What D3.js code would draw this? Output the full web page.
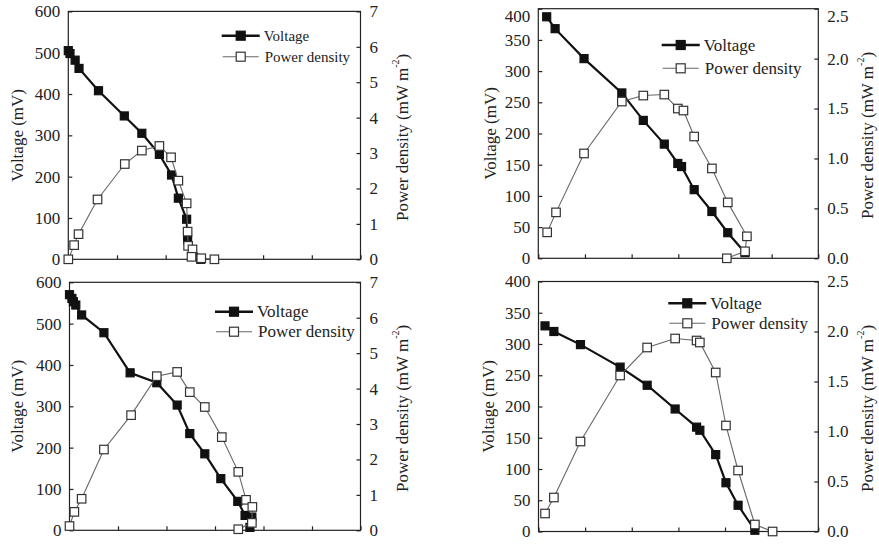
<!DOCTYPE html>
<html><head><meta charset="utf-8">
<script src="https://cdn.jsdelivr.net/npm/d3@7/dist/d3.min.js"></script>
<style>
body{margin:0;background:#fff}
svg{display:block}
text{font-family:"Liberation Serif","Times New Roman",serif;fill:#222}
</style>
</head><body>
<svg id="chart" width="879" height="545"></svg>
<script>
// ---------- data ----------
const xTickValues = [0, 1, 2, 3, 4, 5, 6];
const seriesNames = ["Voltage", "Power density"];
const leftTitle = "Voltage (mV)";

// Panel A (top-left)
const aVoltX = [0, 0.035, 0.14, 0.22, 0.62, 1.15, 1.51, 1.87, 2.12, 2.26, 2.43, 2.45, 2.72];
const aVolt  = [505, 498, 482, 462, 408, 347, 305, 254, 204, 148, 97, 47, 0];
const aPowX  = [0, 0.12, 0.21, 0.60, 1.16, 1.51, 1.87, 2.11, 2.26, 2.43, 2.45, 2.46, 2.55, 2.53, 2.73, 3.0];
const aPow   = [0, 0.40, 0.71, 1.69, 2.69, 3.07, 3.20, 2.88, 2.22, 1.58, 0.78, 0.38, 0.28, 0.07, 0.03, 0];
const aVoltTicks = [0, 100, 200, 300, 400, 500, 600];
const aPowTicks  = [0, 1, 2, 3, 4, 5, 6, 7];

// Panel B (top-right)
const bVoltX = [0.18, 0.36, 0.98, 1.79, 2.25, 2.70, 2.99, 3.07, 3.34, 3.72, 4.06, 4.43];
const bVolt  = [387, 368, 320, 265, 221, 183, 152, 147, 110, 75, 41, 9];
const bPowX  = [0.19, 0.38, 0.98, 1.79, 2.25, 2.70, 2.99, 3.11, 3.34, 3.72, 4.06, 4.47, 4.43, 4.04];
const bPow   = [0.26, 0.46, 1.05, 1.57, 1.63, 1.64, 1.50, 1.48, 1.22, 0.90, 0.56, 0.22, 0.07, 0.00];
const bVoltTicks = [0, 50, 100, 150, 200, 250, 300, 350, 400];
const bPowTicks  = [0, 0.5, 1.0, 1.5, 2.0, 2.5];

// Panel C (bottom-left)
const cVoltX = [0, 0.05, 0.08, 0.13, 0.25, 0.71, 1.25, 1.80, 2.22, 2.48, 2.79, 3.12, 3.47, 3.62, 3.76, 3.72];
const cVolt  = [570, 561, 553, 545, 521, 478, 381, 357, 303, 234, 185, 125, 70, 36, 32, 7];
const cPowX  = [0, 0.10, 0.25, 0.71, 1.27, 1.80, 2.22, 2.48, 2.79, 3.14, 3.48, 3.64, 3.77, 3.76, 3.48];
const cPow   = [0.12, 0.52, 0.89, 2.28, 3.25, 4.35, 4.47, 3.90, 3.48, 2.63, 1.65, 0.86, 0.66, 0.21, 0.03];
const cVoltTicks = [0, 100, 200, 300, 400, 500, 600];
const cPowTicks  = [0, 1, 2, 3, 4, 5, 6, 7];

// Panel D (bottom-right)
const dVoltX = [0.14, 0.33, 0.90, 1.75, 2.33, 2.93, 3.39, 3.46, 3.80, 4.02, 4.28, 4.64];
const dVolt  = [329, 320, 299, 263, 234, 196, 167, 162, 123, 78, 42, 2];
const dPowX  = [0.14, 0.33, 0.90, 1.75, 2.33, 2.93, 3.39, 3.46, 3.80, 4.02, 4.28, 4.64, 5.02];
const dPow   = [0.18, 0.34, 0.90, 1.56, 1.84, 1.93, 1.91, 1.89, 1.59, 1.06, 0.61, 0.07, 0.00];
const dVoltTicks = [0, 50, 100, 150, 200, 250, 300, 350, 400];
const dPowTicks  = [0, 0.5, 1.0, 1.5, 2.0, 2.5];

// ---------- layout ----------
const panels = [
  {vx: aVoltX, v: aVolt, px: aPowX, p: aPow, vt: aVoltTicks, pt: aPowTicks, pfmt: d3.format("d"),
   l: 68.3, r: 360.5, t: 11.4, b: 259.3, leg: {x: 221.7, y1: 35.7, y2: 56.7, fs: 15},
   tl: 17.3, tr: 401.7, labelMinY: 0},
  {vx: bVoltX, v: bVolt, px: bPowX, p: bPow, vt: bVoltTicks, pt: bPowTicks, pfmt: d3.format(".1f"),
   l: 538.3, r: 818.3, t: 8.7, b: 258.3, leg: {x: 661.7, y1: 45, y2: 68.3, fs: 17},
   tl: 490, tr: 866.7, labelMinY: 16.5},
  {vx: cVoltX, v: cVolt, px: cPowX, p: cPow, vt: cVoltTicks, pt: cPowTicks, pfmt: d3.format("d"),
   l: 69.5, r: 360.5, t: 282.3, b: 530.3, leg: {x: 215, y1: 311.7, y2: 331.7, fs: 17},
   tl: 17.3, tr: 401.7, labelMinY: 0},
  {vx: dVoltX, v: dVolt, px: dPowX, p: dPow, vt: dVoltTicks, pt: dPowTicks, pfmt: d3.format(".1f"),
   l: 538.5, r: 818.3, t: 281.5, b: 531.5, leg: {x: 668.3, y1: 303.3, y2: 323.3, fs: 17},
   tl: 488.3, tr: 866.7, labelMinY: 0}
];

const svg = d3.select("#chart");
const AX = "#222";
const FS = 17;

function square(g, cx, cy, s, filled) {
  g.append("rect").attr("x", cx - s / 2).attr("y", cy - s / 2).attr("width", s).attr("height", s)
    .attr("fill", filled ? "#111" : "#fff").attr("stroke", filled ? "#111" : "#333").attr("stroke-width", 1.2);
}

panels.forEach(P => {
  const g = svg.append("g");
  const x = d3.scaleLinear().domain([0, 6]).range([P.l, P.r]);
  const yV = d3.scaleLinear().domain([0, d3.max(P.vt)]).range([P.b, P.t]);
  const yP = d3.scaleLinear().domain([0, d3.max(P.pt)]).range([P.b, P.t]);

  // frame
  g.append("rect").attr("x", P.l).attr("y", P.t).attr("width", P.r - P.l).attr("height", P.b - P.t)
    .attr("fill", "none").attr("stroke", AX).attr("stroke-width", 1.2);

  // axes (ticks inward)
  const ax = g.append("g").attr("transform", `translate(0,${P.b})`)
    .call(d3.axisBottom(x).tickValues(xTickValues).tickSizeInner(-4).tickSizeOuter(0).tickFormat(""));
  const al = g.append("g").attr("transform", `translate(${P.l},0)`)
    .call(d3.axisLeft(yV).tickValues(P.vt).tickSizeInner(-4).tickSizeOuter(0).tickPadding(8).tickFormat(d3.format("d")));
  const ar = g.append("g").attr("transform", `translate(${P.r},0)`)
    .call(d3.axisRight(yP).tickValues(P.pt).tickSizeInner(-4).tickSizeOuter(0).tickPadding(9).tickFormat(P.pfmt));
  [ax, al, ar].forEach(a => {
    a.select(".domain").remove();
    a.selectAll("line").attr("stroke", AX).attr("stroke-width", 1.2);
    a.selectAll("text").style("font-size", FS + "px").attr("fill", "#222")
      .style("font-family", '"Liberation Serif","Times New Roman",serif');
  });
  [al, ar].forEach(a => {
    a.selectAll(".tick").each(function(d) {
      const t = d3.select(this);
      const tr = t.attr("transform");
      const yy = +tr.match(/,([-\d.]+)\)/)[1];
      if (yy < P.labelMinY) t.select("text").attr("y", P.labelMinY - yy);
    });
  });

  // axis titles
  const cy = (P.t + P.b) / 2;
  g.append("text").attr("transform", `translate(${P.tl},${cy}) rotate(-90)`)
    .attr("text-anchor", "middle").attr("dominant-baseline", "central")
    .style("font-size", FS + "px").text(leftTitle);
  const rt = g.append("text").attr("transform", `translate(${P.tr},${cy + 2}) rotate(-90)`)
    .attr("text-anchor", "middle").attr("dominant-baseline", "central").style("font-size", FS + "px");
  rt.append("tspan").text("Power density (mW m");
  rt.append("tspan").attr("dy", -7).style("font-size", "10px").text("-2");
  rt.append("tspan").attr("dy", 7).text(")");

  // lines
  const vData = P.vx.map((d, i) => [d, P.v[i]]);
  const pData = P.px.map((d, i) => [d, P.p[i]]);
  g.append("path").datum(vData).attr("fill", "none").attr("stroke", "#111").attr("stroke-width", 2.2)
    .attr("d", d3.line().x(d => x(d[0])).y(d => yV(d[1])));
  vData.forEach(d => square(g, x(d[0]), yV(d[1]), 8, true));
  g.append("path").datum(pData).attr("fill", "none").attr("stroke", "#666").attr("stroke-width", 1.1)
    .attr("d", d3.line().x(d => x(d[0])).y(d => yP(d[1])));
  pData.forEach(d => square(g, x(d[0]), yP(d[1]), 8.5, false));

  // legend
  const L = P.leg;
  g.append("line").attr("x1", L.x).attr("x2", L.x + 38).attr("y1", L.y1).attr("y2", L.y1)
    .attr("stroke", "#111").attr("stroke-width", 2.5);
  square(g, L.x + 19, L.y1, 9, true);
  g.append("text").attr("x", L.x + 42).attr("y", L.y1).attr("dominant-baseline", "central")
    .style("font-size", L.fs + "px").text(seriesNames[0]);
  g.append("line").attr("x1", L.x + 1).attr("x2", L.x + 37).attr("y1", L.y2).attr("y2", L.y2)
    .attr("stroke", "#666").attr("stroke-width", 1.1);
  square(g, L.x + 19, L.y2, 9, false);
  g.append("text").attr("x", L.x + 43).attr("y", L.y2).attr("dominant-baseline", "central")
    .style("font-size", L.fs + "px").text(seriesNames[1]);
});
</script>
</body></html>
